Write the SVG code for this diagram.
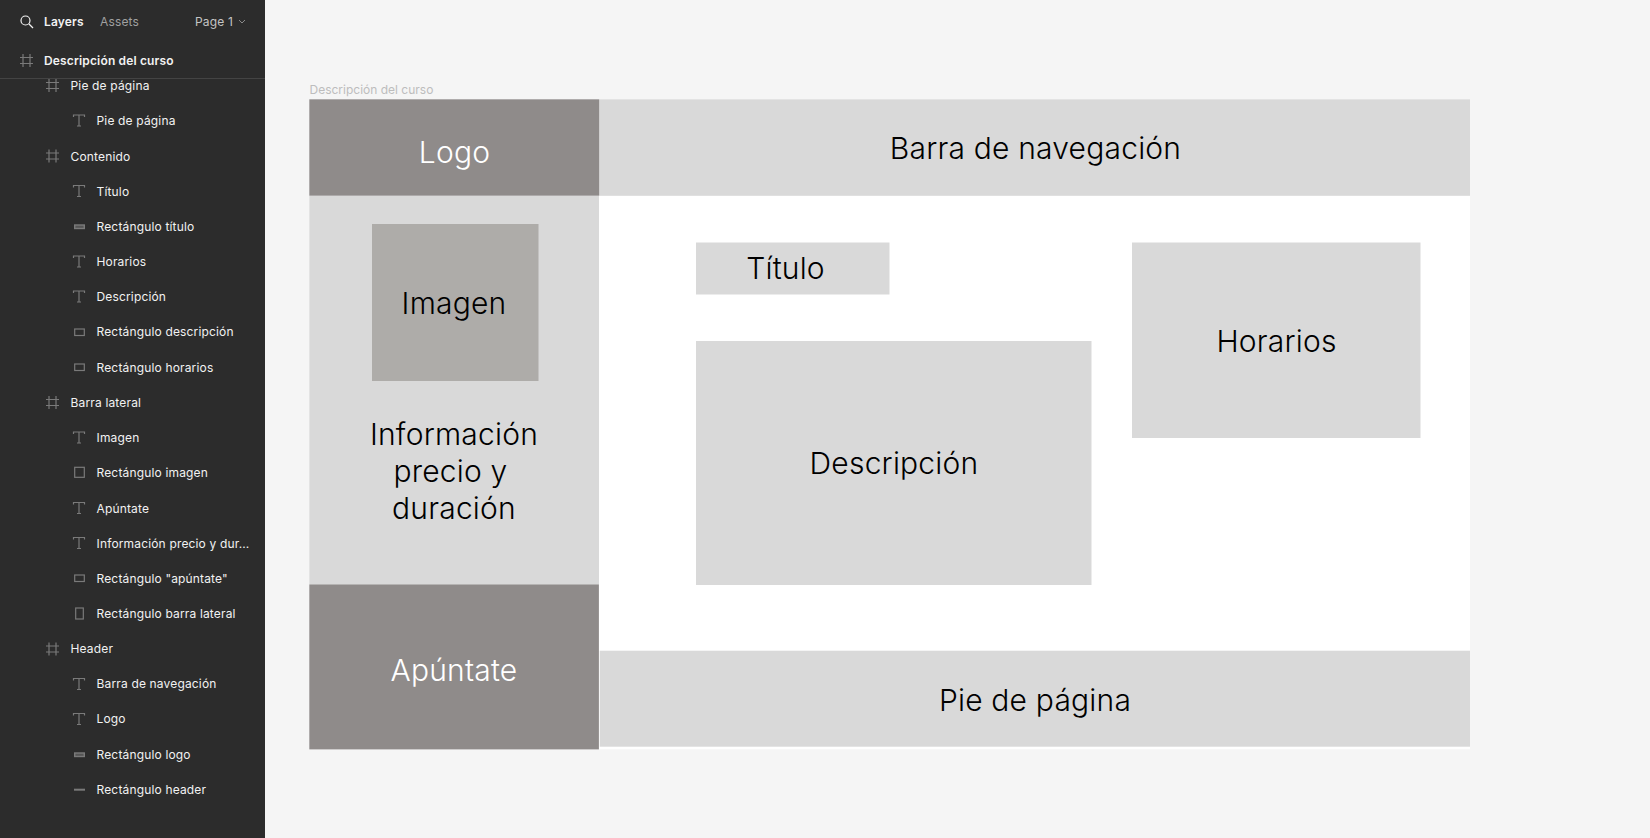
<svg xmlns="http://www.w3.org/2000/svg" width="1650" height="838" viewBox="0 0 1650 838">
<defs>
<style>
text{font-family:Inter,"Noto Sans","Liberation Sans",sans-serif}
.r{font-size:12px;fill:#f2f2f2;letter-spacing:.16px}
.big{font-size:30px;font-weight:350;fill:#000;text-anchor:middle;letter-spacing:.2px}
.ic{fill:none;stroke:#7a7a7a;stroke-width:1.200}
.b{fill:#555;stroke:#7a7a7a;stroke-width:1.400}
.l{fill:#d9d9d9}
.d{fill:#8f8b8a}
</style>
<g id="h"><path class="ic" d="M-3.500-6.500v13M3.500-6.500v13M-6.500-3h13M-6.500 3h13"/></g>
<g id="t"><path class="ic" d="M-5.500-3.500v-2h11v2M0-5.500v11M-2 5.500h4"/></g>
</defs>
<rect id="canvas" width="1650" height="838" fill="#f5f5f5"/>
<g id="sidebar">
<rect width="265" height="838" fill="#2c2c2c"/>
<rect y="78" width="265" height="1" fill="#444"/>
<circle cx="25.500" cy="20.500" r="4.500" fill="none" stroke="#f2f2f2" stroke-width="1.200"/>
<path d="M29 24l4 4" stroke="#f2f2f2" stroke-width="1.200" fill="none"/>
<text x="44" y="26" class="r" font-weight="600">Layers</text>
<text x="100" y="26" class="r" style="fill:#a0a0a0">Assets</text>
<text x="195" y="26" class="r" style="fill:#c4c4c4">Page 1</text>
<path d="M239 20l3 3 3-3" fill="none" stroke="#8a8a8a"/>
<use href="#h" x="26.500" y="60.500"/>
<text x="44" y="65" class="r" font-weight="600">Descripción del curso</text>

<use href="#h" x="52.500" y="85.500"/><text x="70.500" y="90" class="r">Pie de página</text>
<use href="#t" x="79" y="120.500"/><text x="96.500" y="125" class="r">Pie de página</text>
<use href="#h" x="52.500" y="156"/><text x="70.500" y="160.500" class="r">Contenido</text>
<use href="#t" x="79" y="191"/><text x="96.500" y="195.500" class="r">Título</text>
<rect class="b" x="74.700" y="225" width="9.600" height="3.500"/><text x="96.500" y="231" class="r">Rectángulo título</text>
<use href="#t" x="79" y="261.500"/><text x="96.500" y="266" class="r">Horarios</text>
<use href="#t" x="79" y="296.500"/><text x="96.500" y="301" class="r">Descripción</text>
<rect class="ic" x="74.700" y="329" width="9.600" height="6.500"/><text x="96.500" y="336" class="r">Rectángulo descripción</text>
<rect class="ic" x="74.700" y="364" width="9.600" height="6.500"/><text x="96.500" y="371.500" class="r">Rectángulo horarios</text>
<use href="#h" x="52.500" y="402.500"/><text x="70.500" y="407" class="r">Barra lateral</text>
<use href="#t" x="79" y="437.500"/><text x="96.500" y="442" class="r">Imagen</text>
<rect class="ic" x="74.700" y="467.300" width="9.600" height="10"/><text x="96.500" y="477" class="r">Rectángulo imagen</text>
<use href="#t" x="79" y="508"/><text x="96.500" y="512.500" class="r">Apúntate</text>
<use href="#t" x="79" y="543"/><text x="96.500" y="547.500" class="r">Información precio y dur...</text>
<rect class="ic" x="74.700" y="575" width="9.600" height="6.500"/><text x="96.500" y="583" class="r">Rectángulo "apúntate"</text>
<rect class="ic" x="75.700" y="608" width="7.600" height="11"/><text x="96.500" y="617.500" class="r">Rectángulo barra lateral</text>
<use href="#h" x="52.500" y="649"/><text x="70.500" y="653" class="r">Header</text>
<use href="#t" x="79" y="684"/><text x="96.500" y="688" class="r">Barra de navegación</text>
<use href="#t" x="79" y="719"/><text x="96.500" y="723" class="r">Logo</text>
<rect class="b" x="74.700" y="753" width="9.600" height="3.500"/><text x="96.500" y="758.500" class="r">Rectángulo logo</text>
<rect x="74" y="788.700" width="11" height="2" fill="#7a7a7a"/><text x="96.500" y="794" class="r">Rectángulo header</text>
</g>
<text id="frame-label" x="309.500" y="94" font-size="12" fill="#bdbdbd">Descripción del curso</text>
<g id="frame"><rect x="309.300" y="99.300" width="1160.700" height="650" fill="#fff"/></g>
<g id="connectors"/>
<g id="nav"><rect class="l" x="599.500" y="99.300" width="870.500" height="96.500"/><text class="big" x="1035.500" y="159">Barra de navegación</text></g>
<g id="barra-lateral"><rect class="l" x="309.300" y="195.700" width="289.700" height="388.700"/>
<text class="big" x="454" y="445">Información</text><text class="big" x="450.500" y="482">precio y</text><text class="big" x="454" y="519">duración</text></g>
<g id="logo"><rect class="d" x="309.300" y="99.300" width="290" height="96.400"/><text class="big" style="fill:#fff" x="454.500" y="162.700">Logo</text></g>
<g id="imagen"><rect x="372" y="224" width="166.500" height="157" fill="#aeaca9"/><text class="big" x="454" y="314">Imagen</text></g>
<g id="apuntate"><rect class="d" x="309.300" y="584.400" width="289.600" height="165"/><text class="big" style="fill:#fff" x="454" y="681">Apúntate</text></g>
<g id="titulo"><rect class="l" x="696" y="242.500" width="193.500" height="52"/><text class="big" x="785.500" y="279">Título</text></g>
<g id="descripcion"><rect class="l" x="696" y="341" width="395.500" height="244"/><text class="big" x="894" y="474">Descripción</text></g>
<g id="horarios"><rect class="l" x="1132" y="242.500" width="288.500" height="195.500"/><text class="big" x="1276.500" y="351.500">Horarios</text></g>
<g id="pie"><rect class="l" x="599.700" y="650.700" width="870.300" height="96"/><text class="big" x="1035" y="710.500">Pie de página</text></g>
</svg>
